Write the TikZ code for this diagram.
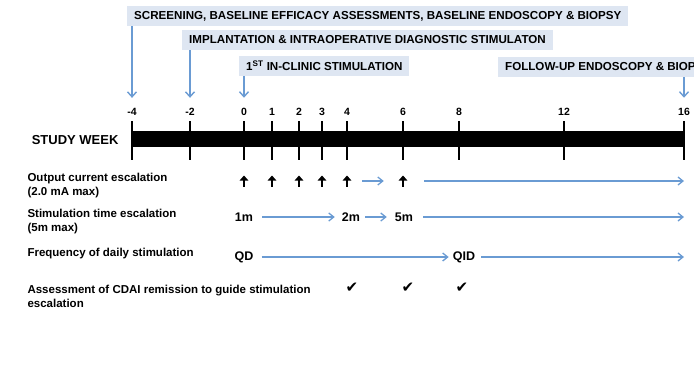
\documentclass[tikz,border=0pt]{standalone}
\usepackage{fontspec}
\setmainfont{Liberation Sans}
\newfontfamily\symfont{DejaVu Sans}
\usetikzlibrary{arrows.meta}
\definecolor{arrowblue}{RGB}{106,155,211}
\definecolor{boxblue}{RGB}{222,230,242}

\begin{document}
\begin{tikzpicture}[x=1pt,y=-1pt,
	phase/.style={fill=boxblue, anchor=west, inner xsep=7pt, minimum height=20pt, font=\bfseries\fontsize{11.6}{13}\selectfont},
	pointer/.style={draw=arrowblue, line width=1.4pt, -{Straight Barb[length=5pt,width=9pt]}},
	flow/.style={draw=arrowblue, line width=1.3pt, -{Straight Barb[length=5pt,width=8pt]}},
	week/.style={font=\bfseries\fontsize{10.5}{12}\selectfont},
	weektick/.style={line width=1.5pt},
	rowlabel/.style={anchor=west, align=left, font=\bfseries\fontsize{11.5}{14}\selectfont},
	dose/.style={inner sep=0pt, font=\bfseries\fontsize{12.5}{14}\selectfont},
	bump/.style={minimum width=10pt, minimum height=11pt, inner sep=0pt,
		path picture={\draw[line width=1.9pt,-{Triangle[length=5pt,width=8.5pt]}] (path picture bounding box.south) -- (path picture bounding box.north);}},
	check/.style={inner sep=0pt, font=\symfont\fontsize{15}{16}\selectfont}
	]
	\path[use as bounding box, clip] (0,0) rectangle (694,376);

	% Phases
		\node[phase] (scr) at (127,16) {SCREENING, BASELINE EFFICACY ASSESSMENTS, BASELINE ENDOSCOPY \& BIOPSY};
		\node[phase] (imp) at (182,40) {IMPLANTATION \& INTRAOPERATIVE DIAGNOSTIC STIMULATON};
		\node[phase] (ics) at (239,66) {1\textsuperscript{ST} IN-CLINIC STIMULATION};
		\node[phase] (fup) at (498,67) {FOLLOW-UP ENDOSCOPY \& BIOPSY};

	% Study weeks
		\fill (132,131) rectangle (684,147);
		\foreach \w/\x in {-4/132,-2/190,0/244,1/272,2/299,3/322,4/347,6/403,8/459,12/564,16/684} {
			\node[week] (wk\w) at (\x,112) {\w};
			\draw[weektick] (\x,121) -- (\x,160);
		}
		\node[anchor=east, font=\bfseries\fontsize{13}{15}\selectfont] (sw) at (122,140) {STUDY WEEK};

		\draw[pointer] (scr.south -| wk-4) -- ([yshift=7pt]wk-4.north);
		\draw[pointer] (imp.south -| wk-2) -- ([yshift=7pt]wk-2.north);
		\draw[pointer] (ics.south -| wk0) -- ([yshift=7pt]wk0.north);
		\draw[pointer] (fup.south -| wk16) -- ([yshift=7pt]wk16.north);

	% Output current
		\node[rowlabel] (cur) at (24,186) {Output current escalation\\(2.0 mA max)};
		\foreach \w/\x in {0/244,1/272,2/299,3/322,4/347,6/403}
			\node[bump] (up\w) at (\x,181) {};
		\coordinate (curend) at (684,181);
		\draw[flow, shorten <=10pt, shorten >=14pt] (up4) -- (up6);
		\draw[flow, shorten <=16pt] (up6) -- (curend);

	% Stimulation time
		\node[rowlabel] (tim) at (24,222) {Stimulation time escalation\\(5m max)};
		\node[dose] (m1) at (244,217) {1m};
		\node[dose] (m2) at (351,217) {2m};
		\node[dose] (m5) at (404,217) {5m};
		\coordinate (timend) at (684,217);
		\draw[flow, shorten <=9pt, shorten >=7pt] (m1) -- (m2);
		\draw[flow, shorten <=5pt, shorten >=8pt] (m2) -- (m5);
		\draw[flow, shorten <=10pt] (m5) -- (timend);

	% Frequency
		\node[rowlabel] (frq) at (24,254) {Frequency of daily stimulation};
		\node[dose] (qd) at (244,257) {QD};
		\node[dose] (qid) at (464,257) {QID};
		\coordinate (frqend) at (684,257);
		\draw[flow, shorten <=8pt, shorten >=4pt] (qd) -- (qid);
		\draw[flow, shorten <=6pt] (qid) -- (frqend);

	% CDAI
		\node[rowlabel] (cdai) at (24,296) {Assessment of CDAI remission to guide stimulation\\escalation};
		\node[check] (ck4) at (352,288) {✔};
		\node[check] (ck6) at (408,288) {✔};
		\node[check] (ck8) at (462,288) {✔};
\end{tikzpicture}
\end{document}
